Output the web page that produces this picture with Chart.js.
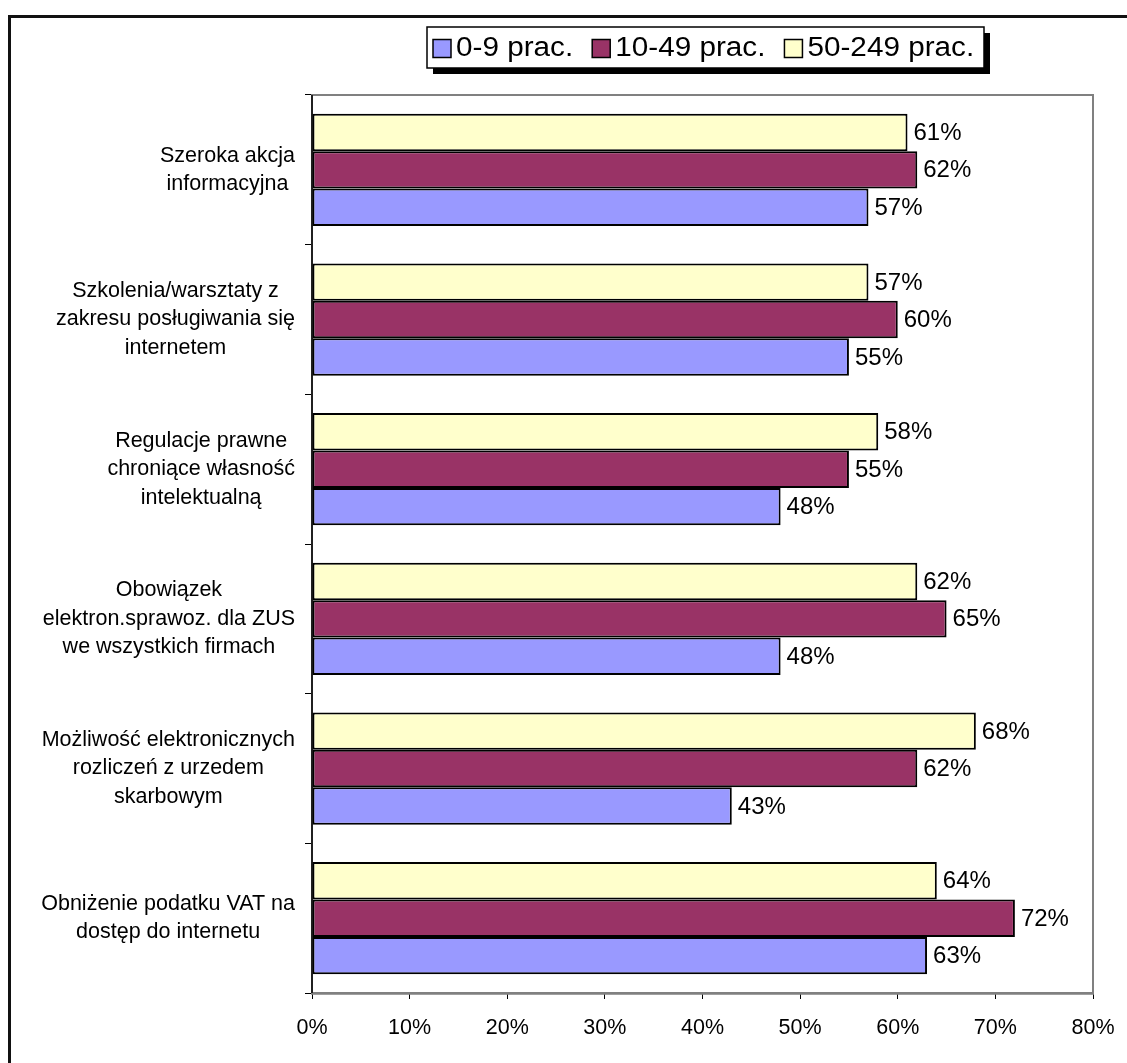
<!DOCTYPE html>
<html>
<head>
<meta charset="utf-8">
<script src="https://cdn.jsdelivr.net/npm/chart.js@4/dist/chart.umd.min.js"></script>
<style>
html,body{margin:0;padding:0;background:#fff;}
#wrap{width:1127px;height:1063px;position:relative;}
</style>
</head>
<body>
<div id="wrap"><canvas id="c" width="1127" height="1063"></canvas></div>
<script>
const categories = [
  ['Szeroka akcja', 'informacyjna'],
  ['Szkolenia/warsztaty z', 'zakresu posługiwania się', 'internetem'],
  ['Regulacje prawne', 'chroniące własność', 'intelektualną'],
  ['Obowiązek', 'elektron.sprawoz. dla ZUS', 'we wszystkich firmach'],
  ['Możliwość elektronicznych', 'rozliczeń z urzedem', 'skarbowym'],
  ['Obniżenie podatku VAT na', 'dostęp do internetu']
];
const seriesLabels = ['0-9 prac.', '10-49 prac.', '50-249 prac.'];
const values0_9 = [57, 55, 48, 48, 43, 63];
const values10_49 = [62, 60, 55, 65, 62, 72];
const values50_249 = [61, 57, 58, 62, 68, 64];
const xTickValues = [0, 10, 20, 30, 40, 50, 60, 70, 80];

const FONT = "'Liberation Sans', Arial, sans-serif";
const colors = { '0-9 prac.': '#9999FF', '10-49 prac.': '#993366', '50-249 prac.': '#FFFFCC' };

const framePlugin = {
  id: 'frame',
  beforeDraw(chart) {
    const ctx = chart.ctx;
    ctx.save();
    ctx.fillStyle = '#fff';
    ctx.fillRect(0, 0, chart.width, chart.height);
    ctx.strokeStyle = '#111';
    ctx.lineWidth = 3;
    ctx.beginPath();
    ctx.moveTo(9.5, chart.height + 5);
    ctx.lineTo(9.5, 16.5);
    ctx.lineTo(chart.width + 5, 16.5);
    ctx.stroke();
    ctx.restore();
  },
  beforeDatasetsDraw(chart) {
    const a = chart.chartArea;
    const ctx = chart.ctx;
    ctx.save();
    ctx.strokeStyle = '#808080';
    ctx.lineWidth = 2;
    ctx.strokeRect(a.left, a.top, a.right - a.left, a.bottom - a.top);
    ctx.strokeStyle = '#000';
    ctx.lineWidth = 1.5;
    ctx.beginPath();
    ctx.moveTo(a.left, a.top);
    ctx.lineTo(a.left, a.bottom);
    ctx.stroke();
    ctx.restore();
  },
  afterDatasetsDraw(chart) {
    const ctx = chart.ctx;
    ctx.save();
    ctx.font = '24px ' + FONT;
    ctx.fillStyle = '#000';
    ctx.textAlign = 'left';
    ctx.textBaseline = 'middle';
    chart.data.datasets.forEach((ds, di) => {
      const meta = chart.getDatasetMeta(di);
      meta.data.forEach((el, i) => {
        ctx.fillText(ds.data[i] + '%', el.x + 6, el.y + 1);
      });
    });
    ctx.restore();
  },
  afterDraw(chart) {
    const ctx = chart.ctx;
    const ys = chart.scales.y;
    ctx.save();
    ctx.font = '21.5px ' + FONT;
    ctx.fillStyle = '#000';
    ctx.textAlign = 'center';
    ctx.textBaseline = 'middle';
    const lh = 28.5;
    chart.data.labels.forEach((lines, i) => {
      const y = ys.getPixelForValue(i);
      const maxW = Math.max(...lines.map(l => ctx.measureText(l).width));
      const cx = 295 - maxW / 2;
      const y0 = y - (lines.length - 1) * lh / 2;
      lines.forEach((l, k) => ctx.fillText(l, cx, y0 + k * lh));
    });
    // legend
    const bx = 427, by = 27, bw = 557, bh = 41;
    ctx.fillStyle = '#000';
    ctx.fillRect(bx + 6, by + 6, bw, bh);
    ctx.fillStyle = '#fff';
    ctx.fillRect(bx, by, bw, bh);
    ctx.strokeStyle = '#000';
    ctx.lineWidth = 1.5;
    ctx.strokeRect(bx, by, bw, bh);
    ctx.font = '27px ' + FONT;
    ctx.textAlign = 'left';
    ctx.textBaseline = 'middle';
    const sx = 1.1;
    let x = bx + 6;
    const cy = by + bh / 2 + 1;
    seriesLabels.forEach((lab) => {
      ctx.fillStyle = colors[lab];
      ctx.fillRect(x, cy - 9, 18, 18);
      ctx.strokeStyle = '#000';
      ctx.lineWidth = 1.5;
      ctx.strokeRect(x, cy - 9, 18, 18);
      ctx.fillStyle = '#000';
      ctx.save();
      ctx.translate(x + 23, cy);
      ctx.scale(sx, 1);
      ctx.fillText(lab, 0, 0);
      ctx.restore();
      x += 23 + ctx.measureText(lab).width * sx + 19;
    });
    ctx.restore();
  }
};

new Chart(document.getElementById('c'), {
  type: 'bar',
  data: {
    labels: categories,
    datasets: [
      { label: seriesLabels[2], data: values50_249, backgroundColor: colors[seriesLabels[2]] },
      { label: seriesLabels[1], data: values10_49, backgroundColor: colors[seriesLabels[1]] },
      { label: seriesLabels[0], data: values0_9, backgroundColor: colors[seriesLabels[0]] }
    ].map(d => Object.assign(d, {
      borderColor: '#000', borderWidth: 2, borderSkipped: false,
      categoryPercentage: 0.75, barPercentage: 1.0
    }))
  },
  options: {
    indexAxis: 'y',
    responsive: false,
    animation: false,
    devicePixelRatio: 1,
    layout: { padding: { top: 95, right: 34, left: 0, bottom: 0 } },
    plugins: { legend: { display: false }, tooltip: { enabled: false } },
    scales: {
      x: {
        min: 0, max: 80,
        afterBuildTicks(s) { s.ticks = xTickValues.map(v => ({ value: v })); },
        ticks: { callback: v => v + '%', font: { family: FONT, size: 21.5 }, color: '#000', padding: 16, maxRotation: 0 },
        grid: { drawOnChartArea: false, drawTicks: true, tickLength: 6, color: '#000', lineWidth: 1 },
        border: { color: '#404040', width: 2.5 },
        afterFit(s) { s.height = 70; s.paddingRight = 0; s.paddingLeft = 0; }
      },
      y: {
        ticks: { display: false },
        grid: { drawOnChartArea: false, drawTicks: true, tickLength: 7, color: '#000', lineWidth: 1, offset: true },
        border: { color: '#000', width: 1.5 },
        afterFit(s) { s.width = 312; s.paddingTop = 0; s.paddingBottom = 0; }
      }
    }
  },
  plugins: [framePlugin]
});
</script>
</body>
</html>
